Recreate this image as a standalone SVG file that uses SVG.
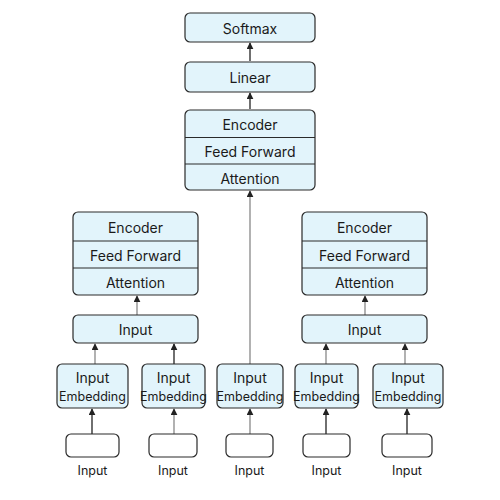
<svg xmlns="http://www.w3.org/2000/svg" width="500" height="500" viewBox="0 0 500 500">
<defs>
<marker id="ah" viewBox="0 0 10 10" refX="9" refY="5" markerWidth="7" markerHeight="7" orient="auto" markerUnits="userSpaceOnUse"><path d="M0,0 L10,5 L0,10 z" fill="#222"/></marker>
<style>
.box{fill:#e2f4fb;stroke:#2a2a2a;stroke-width:1.2}
.empty{fill:#ffffff;stroke:#2a2a2a;stroke-width:1.2}
.div{stroke:#2a2a2a;stroke-width:1}
text{font-family:Inter,"Noto Sans","Liberation Sans",sans-serif;fill:#1a1a1a;text-anchor:middle;dominant-baseline:central}
.t{font-size:14px}
.s{font-size:12.5px}
.c{stroke:#222;stroke-width:1.3;fill:none;marker-end:url(#ah)}
.g{stroke:#888;stroke-width:1.3;fill:none;marker-end:url(#ah)}
</style>
</defs>
<rect width="500" height="500" fill="#ffffff"/>
<g id="connectors">
<line class="c" x1="250" y1="61" x2="250" y2="43"/>
<line class="c" x1="250" y1="109" x2="250" y2="93"/>
<line class="g" x1="137" y1="315" x2="137" y2="296"/>
<line class="g" x1="365" y1="315" x2="365" y2="296"/>
<line class="g" x1="95" y1="364" x2="95" y2="344"/>
<line class="c" x1="174" y1="364" x2="174" y2="344"/>
<line class="g" x1="250" y1="364" x2="250" y2="191"/>
<line class="g" x1="326" y1="364" x2="326" y2="344"/>
<line class="g" x1="405" y1="364" x2="405" y2="344"/>
<line class="c" x1="92" y1="434" x2="92" y2="409"/>
<line class="g" x1="174" y1="434" x2="174" y2="409"/>
<line class="g" x1="250" y1="434" x2="250" y2="409"/>
<line class="c" x1="326" y1="434" x2="326" y2="409"/>
<line class="c" x1="407" y1="434" x2="407" y2="409"/>
</g>
<g id="softmax"><rect class="box" x="185" y="13" width="130" height="29" rx="5"/><text class="t" x="250" y="28">Softmax</text></g>
<g id="linear"><rect class="box" x="185" y="62" width="130" height="30" rx="5"/><text class="t" x="250" y="77">Linear</text></g>
<g id="encoder-top"><rect class="box" x="185" y="110" width="130" height="80" rx="5"/>
<line class="div" x1="185" y1="137.5" x2="315" y2="137.5"/><line class="div" x1="185" y1="164" x2="315" y2="164"/>
<text class="t" x="250" y="124">Encoder</text><text class="t" x="250" y="151">Feed Forward</text><text class="t" x="250" y="178">Attention</text></g>
<g id="encoder-left"><rect class="box" x="73" y="212" width="125" height="83" rx="5"/>
<line class="div" x1="73" y1="241" x2="198" y2="241"/><line class="div" x1="73" y1="268" x2="198" y2="268"/>
<text class="t" x="135.5" y="227">Encoder</text><text class="t" x="135.5" y="255">Feed Forward</text><text class="t" x="135.5" y="282">Attention</text></g>
<g id="encoder-right"><rect class="box" x="302" y="212" width="125" height="83" rx="5"/>
<line class="div" x1="302" y1="241" x2="427" y2="241"/><line class="div" x1="302" y1="268" x2="427" y2="268"/>
<text class="t" x="364.5" y="227">Encoder</text><text class="t" x="364.5" y="255">Feed Forward</text><text class="t" x="364.5" y="282">Attention</text></g>
<g id="input-left"><rect class="box" x="73" y="315" width="125" height="28" rx="5"/><text class="t" x="135.5" y="329.5">Input</text></g>
<g id="input-right"><rect class="box" x="302" y="315" width="125" height="28" rx="5"/><text class="t" x="364.5" y="329.5">Input</text></g>
<g id="emb1"><rect class="box" x="57" y="364" width="71" height="44" rx="5"/><text class="t" x="92.5" y="377">Input</text><text class="s" x="92.5" y="396">Embedding</text></g>
<g id="emb2"><rect class="box" x="142" y="364" width="63" height="44" rx="5"/><text class="t" x="173.5" y="377">Input</text><text class="s" x="173.5" y="396">Embedding</text></g>
<g id="emb3"><rect class="box" x="217" y="364" width="66" height="44" rx="5"/><text class="t" x="250" y="377">Input</text><text class="s" x="250" y="396">Embedding</text></g>
<g id="emb4"><rect class="box" x="295" y="364" width="63" height="44" rx="5"/><text class="t" x="326.5" y="377">Input</text><text class="s" x="326.5" y="396">Embedding</text></g>
<g id="emb5"><rect class="box" x="373" y="364" width="70" height="44" rx="5"/><text class="t" x="408" y="377">Input</text><text class="s" x="408" y="396">Embedding</text></g>
<g id="in1"><rect class="empty" x="66" y="434" width="53" height="23" rx="5"/><text class="s" x="92.5" y="470">Input</text></g>
<g id="in2"><rect class="empty" x="149" y="434" width="48" height="23" rx="5"/><text class="s" x="173" y="470">Input</text></g>
<g id="in3"><rect class="empty" x="226" y="434" width="47" height="23" rx="5"/><text class="s" x="249.5" y="470">Input</text></g>
<g id="in4"><rect class="empty" x="303" y="434" width="47" height="23" rx="5"/><text class="s" x="326.5" y="470">Input</text></g>
<g id="in5"><rect class="empty" x="382" y="434" width="50" height="23" rx="5"/><text class="s" x="407" y="470">Input</text></g>
</svg>
